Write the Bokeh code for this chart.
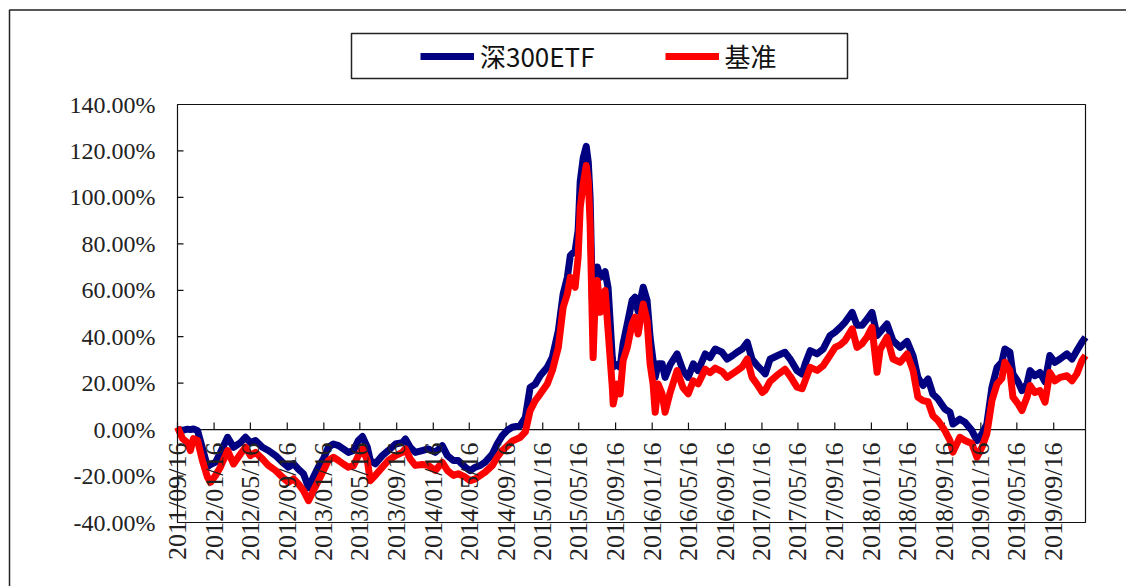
import math
from datetime import datetime
from bokeh.plotting import figure
from bokeh.models import (Range1d, ColumnDataSource, LabelSet, Legend, LegendItem,
                          BoxAnnotation)
from bokeh.core.properties import value
from bokeh.embed import file_html
from bokeh.resources import INLINE

dates = [
    "2011-09-16", "2011-10-03", "2011-10-19", "2011-10-29", "2011-11-08", "2011-11-22",
    "2011-12-08", "2011-12-25", "2012-01-04", "2012-01-21", "2012-02-06", "2012-03-01",
    "2012-03-21", "2012-04-13", "2012-04-30", "2012-05-16", "2012-06-02", "2012-06-25",
    "2012-07-15", "2012-08-08", "2012-08-31", "2012-09-20", "2012-10-07", "2012-10-23",
    "2012-11-09", "2012-11-26", "2012-12-12", "2012-12-29", "2013-01-15", "2013-01-31",
    "2013-02-17", "2013-03-06", "2013-03-22", "2013-04-08", "2013-04-25", "2013-05-11",
    "2013-05-25", "2013-06-10", "2013-06-20", "2013-07-07", "2013-07-30", "2013-08-19",
    "2013-09-12", "2013-10-05", "2013-10-15", "2013-10-31", "2013-11-17", "2013-12-10",
    "2013-12-30", "2014-01-23", "2014-02-15", "2014-03-04", "2014-03-24", "2014-04-09",
    "2014-05-03", "2014-05-19", "2014-06-05", "2014-06-22", "2014-07-08", "2014-08-01",
    "2014-08-17", "2014-09-03", "2014-09-20", "2014-10-06", "2014-11-02", "2014-11-19",
    "2014-12-05", "2014-12-22", "2015-01-08", "2015-01-31", "2015-02-17", "2015-03-09",
    "2015-03-25", "2015-04-08", "2015-04-18", "2015-05-04", "2015-05-14", "2015-05-21",
    "2015-05-31", "2015-06-10", "2015-06-17", "2015-06-23", "2015-07-03", "2015-07-10",
    "2015-07-17", "2015-07-27", "2015-08-12", "2015-08-22", "2015-09-05", "2015-09-08",
    "2015-09-21", "2015-10-01", "2015-10-11", "2015-10-25", "2015-11-10", "2015-11-20",
    "2015-11-30", "2015-12-17", "2015-12-30", "2016-01-09", "2016-01-19", "2016-01-26",
    "2016-02-05", "2016-02-18", "2016-02-28", "2016-03-16", "2016-04-08", "2016-04-28",
    "2016-05-15", "2016-06-01", "2016-06-17", "2016-07-11", "2016-07-27", "2016-08-13",
    "2016-09-05", "2016-09-22", "2016-10-09", "2016-10-25", "2016-11-11", "2016-11-28",
    "2016-12-14", "2016-12-31", "2017-01-17", "2017-01-27", "2017-02-12", "2017-03-08",
    "2017-04-03", "2017-04-20", "2017-05-13", "2017-05-30", "2017-06-09", "2017-06-26",
    "2017-07-19", "2017-08-08", "2017-08-31", "2017-09-17", "2017-10-04", "2017-10-20",
    "2017-11-13", "2017-11-29", "2017-12-16", "2018-01-02", "2018-01-18", "2018-02-04",
    "2018-02-14", "2018-03-09", "2018-03-29", "2018-04-22", "2018-05-15", "2018-06-04",
    "2018-06-20", "2018-07-07", "2018-07-24", "2018-08-09", "2018-08-26", "2018-09-18",
    "2018-10-05", "2018-10-15", "2018-11-07", "2018-11-24", "2018-12-17", "2019-01-03",
    "2019-01-20", "2019-02-05", "2019-02-22", "2019-03-11", "2019-03-27", "2019-04-06",
    "2019-04-23", "2019-05-03", "2019-05-20", "2019-06-02", "2019-06-19", "2019-06-29",
    "2019-07-15", "2019-08-01", "2019-08-18", "2019-09-03", "2019-09-20", "2019-10-07",
    "2019-10-30", "2019-11-16", "2019-12-02", "2019-12-19", "2019-12-31",
]

etf = [
    0.0, -0.3, 0.2, 0.0, 0.3, -0.5,
    -8.0, -16.0, -15.0, -14.0, -10.0, -3.3,
    -7.6, -5.6, -3.3, -5.6, -4.7, -7.6,
    -9.0, -11.2, -14.1, -16.2, -14.7, -17.0,
    -19.0, -25.0, -20.5, -16.0, -12.5, -7.6,
    -6.2, -6.9, -8.3, -9.8, -9.0, -4.7,
    -3.0, -7.6, -13.3, -14.7, -11.2, -9.0,
    -6.2, -5.6, -4.0, -7.6, -9.8, -9.0,
    -8.3, -9.8, -6.9, -11.2, -13.3, -13.3,
    -16.2, -17.7, -16.2, -15.4, -14.0, -10.5,
    -6.2, -2.6, -0.3, 1.0, 1.7, 5.3,
    18.2, 19.6, 23.3, 26.8, 31.1, 42.6,
    58.4, 65.6, 75.0, 77.0, 85.7, 107.0,
    117.0, 122.0, 115.0, 100.0, 42.0, 62.0,
    70.0, 65.6, 68.0, 61.0, 31.0, 27.0,
    28.0, 26.8, 37.0, 45.6, 55.6, 57.0,
    51.0, 61.3, 55.6, 39.8, 29.7, 22.5,
    28.4, 28.4, 22.5, 28.0, 32.6, 25.4,
    22.5, 28.3, 25.4, 32.6, 31.0, 34.7,
    33.3, 30.4, 31.8, 33.3, 34.7, 37.6,
    30.3, 27.6, 25.4, 24.0, 30.3, 31.8,
    33.3, 30.4, 25.4, 23.9, 28.3, 34.0,
    32.6, 34.7, 40.5, 42.0, 44.0, 46.2,
    50.5, 44.9, 44.9, 47.6, 50.5, 40.5,
    42.0, 45.5, 38.3, 35.4, 38.0, 31.8,
    22.5, 19.0, 21.8, 15.3, 13.2, 8.9,
    7.5, 2.4, 4.5, 3.2, -0.4, -4.7,
    -1.8, 2.4, 18.2, 26.8, 29.0, 34.7,
    33.3, 24.0, 20.6, 16.8, 19.7, 25.4,
    23.2, 24.6, 20.6, 31.9, 29.0, 30.4,
    32.6, 30.4, 34.0, 37.6, 39.8,
]

bench = [
    1.0, -3.9, -5.6, -9.0, -3.9, -4.7,
    -13.3, -20.5, -22.7, -19.7, -16.2, -9.0,
    -14.8, -10.5, -7.6, -11.2, -9.8, -12.6,
    -15.4, -17.6, -20.5, -22.7, -21.2, -23.4,
    -26.3, -30.6, -26.3, -22.0, -17.6, -13.3,
    -11.9, -13.3, -14.8, -16.2, -15.6, -11.2,
    -8.3, -13.3, -22.0, -19.7, -16.2, -13.3,
    -11.2, -9.8, -8.3, -12.6, -15.4, -15.0,
    -15.4, -17.6, -14.1, -17.6, -19.7, -19.0,
    -20.5, -22.0, -21.2, -19.7, -18.3, -15.4,
    -11.9, -9.0, -7.0, -5.0, -3.3, -1.0,
    8.2, 12.5, 15.4, 19.6, 25.4, 35.4,
    52.7, 58.4, 65.6, 61.3, 74.2, 95.7,
    105.8, 113.7, 107.0, 88.6, 31.0, 57.0,
    64.2, 50.5, 59.9, 42.6, 18.2, 11.0,
    19.6, 15.4, 29.7, 35.4, 45.5, 48.4,
    41.2, 54.1, 47.0, 28.3, 19.6, 7.5,
    19.6, 15.4, 7.5, 16.0, 25.4, 18.0,
    15.4, 21.0, 19.7, 26.0, 24.5, 26.5,
    25.0, 22.5, 24.0, 25.4, 27.0, 30.4,
    22.5, 19.5, 16.0, 17.0, 20.8, 23.5,
    26.0, 23.0, 18.3, 17.6, 21.0, 26.8,
    25.5, 27.5, 32.0, 35.4, 36.5, 38.3,
    43.4, 35.4, 37.0, 40.0, 44.0, 24.7,
    34.5, 39.8, 30.4, 29.0, 32.6, 25.4,
    14.0, 12.5, 12.0, 6.0, 3.9, -0.4,
    -4.7, -9.7, -3.3, -4.7, -6.0, -11.9,
    -7.5, -1.8, 12.5, 19.7, 22.0, 29.0,
    25.4, 14.0, 11.1, 8.2, 14.0, 19.0,
    16.0, 16.8, 11.8, 24.6, 21.0, 22.5,
    23.2, 21.0, 24.0, 29.7, 31.9,
]

tick_labels = [
    "2011/09/16", "2012/01/16", "2012/05/16", "2012/09/16", "2013/01/16",
    "2013/05/16", "2013/09/16", "2014/01/16", "2014/05/16", "2014/09/16",
    "2015/01/16", "2015/05/16", "2015/09/16", "2016/01/16", "2016/05/16",
    "2016/09/16", "2017/01/16", "2017/05/16", "2017/09/16", "2018/01/16",
    "2018/05/16", "2018/09/16", "2019/01/16", "2019/05/16", "2019/09/16",
]

y_ticks = [-40, -20, 0, 20, 40, 60, 80, 100, 120, 140]

series_names = ["深300ETF", "基准"]

# ---- layout geometry (canvas pixels; the canvas starts at the page's top-left) ----
W, H = 1126, 586
PLOT_L, PLOT_R, PLOT_T, PLOT_B = 177, 1085, 104, 522

EPOCH = datetime(1970, 1, 1)


def to_ms(d):
    return (d - EPOCH).total_seconds() * 1000.0


x = [datetime.strptime(d, "%Y-%m-%d") for d in dates]
x_ms = [to_ms(d) for d in x]
tick_ms = [to_ms(datetime.strptime(t, "%Y/%m/%d")) for t in tick_labels]

x_start, x_end = x_ms[0], x_ms[-1]
y_lo, y_hi = y_ticks[0], y_ticks[-1]
mpp = (x_end - x_start) / (PLOT_R - PLOT_L)      # ms per pixel
upp = (y_hi - y_lo) / (PLOT_B - PLOT_T)          # % per pixel

p = figure(width=W, height=H,
           x_range=Range1d(x_start - PLOT_L * mpp, x_end + (W - PLOT_R) * mpp),
           y_range=Range1d(y_lo - (H - PLOT_B) * upp, y_hi + PLOT_T * upp),
           x_axis_location=None, y_axis_location=None,
           output_backend="svg", toolbar_location=None,
           min_border=0, min_border_left=0, min_border_right=0,
           min_border_top=0, min_border_bottom=0)
p.title.visible = False
p.background_fill_color = "white"
p.border_fill_color = "white"
p.outline_line_color = None
p.grid.visible = False

INK = "#111111"
TXT = "#222222"

# zero line (category axis crossing)
p.segment(x0=x_start, y0=0, x1=x_end, y1=0, line_color=INK, line_width=1.2)

# x ticks pointing up from the zero line
xt_src = ColumnDataSource(dict(x=tick_ms, text=tick_labels))
p.segment(x0="x", y0=0, x1="x", y1=7 * upp, source=xt_src, line_color=INK, line_width=1.2)

# y ticks pointing inward
yt_src = ColumnDataSource(dict(y=y_ticks, text=[f"{v:.2f}%" for v in y_ticks]))
p.segment(x0=x_start, y0="y", x1=x_start + 6 * mpp, y1="y", source=yt_src,
          line_color=INK, line_width=1.2)

# series
r1 = p.line(x_ms, etf, line_color="#000080", line_width=7, line_join="round")
r2 = p.line(x_ms, bench, line_color="#FF0000", line_width=7, line_join="round")

# plot box
p.add_layout(BoxAnnotation(left=x_start, right=x_end, bottom=y_lo, top=y_hi,
                           fill_color=None, fill_alpha=0, line_color=INK, line_width=1.2,
                           line_alpha=1))

# tick labels
p.add_layout(LabelSet(x="x", y=0, text="text", source=xt_src, angle=math.pi / 2,
                      text_align="right", text_baseline="middle", y_offset=-13,
                      text_font=value("Liberation Serif"), text_font_size="26px",
                      text_color=TXT))
p.add_layout(LabelSet(x=x_start, y="y", text="text", source=yt_src, x_offset=-22,
                      text_align="right", text_baseline="middle",
                      text_font=value("Liberation Serif"), text_font_size="24px",
                      text_color=TXT))

# legend (location measured from the frame's bottom-left)
legend = Legend(items=[LegendItem(label=series_names[0], renderers=[r1]),
                       LegendItem(label=series_names[1], renderers=[r2])],
                orientation="horizontal", location=(416, 508), padding=4, spacing=70,
                label_standoff=6, glyph_width=54, glyph_height=20, label_width=112,
                label_text_font="Noto Sans CJK SC", label_text_font_size="26px",
                label_text_color=INK, border_line_alpha=0,
                background_fill_alpha=0, margin=0)
p.add_layout(legend, "center")

# legend frame and outer border (screen units: x from the left, y from the bottom)
p.add_layout(BoxAnnotation(left=351, right=847, top=H - 33, bottom=H - 78,
                           left_units="screen", right_units="screen",
                           top_units="screen", bottom_units="screen",
                           fill_color=None, fill_alpha=0, line_color="#222222",
                           line_width=1.5, line_alpha=1))
p.add_layout(BoxAnnotation(left=9, right=W + 20, top=H - 9.5, bottom=-20,
                           left_units="screen", right_units="screen",
                           top_units="screen", bottom_units="screen",
                           fill_color=None, fill_alpha=0, line_color="#222222",
                           line_width=1.5, line_alpha=1))

open("out.html", "w").write(file_html(p, INLINE))
